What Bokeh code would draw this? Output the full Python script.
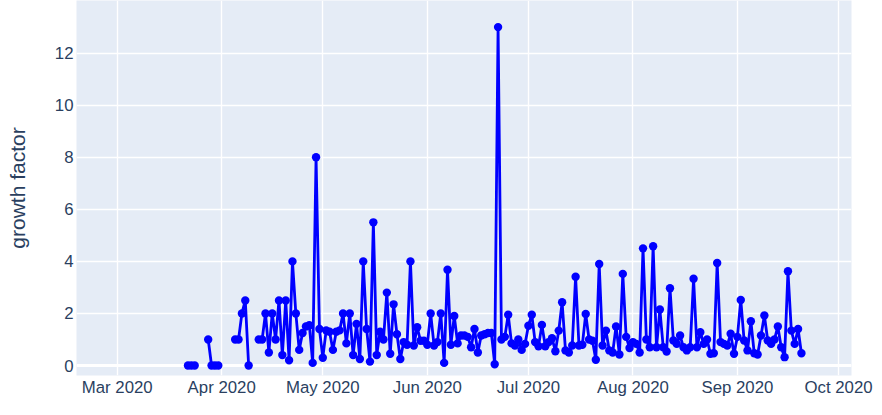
import numpy as np
import pandas as pd
from bokeh.plotting import figure
from bokeh.models import Range1d, FixedTicker, DatetimeTickFormatter, Span, ColumnDataSource
from bokeh.embed import file_html
from bokeh.resources import INLINE

nan = float("nan")

# daily growth factor, first day 2020-03-22 (NaN = no value that day)
start_date = "2020-03-22"
growth_mar = [0, 0, 0, nan, nan, nan, 1, 0, 0, 0]                         # Mar 22 - Mar 31
growth_apr = [nan, nan, nan, nan, 1, 1, 2, 2.5, 0, nan,
              nan, 1, 1, 2, 0.5, 2, 1, 2.5, 0.4, 2.5,
              0.2, 4, 2, 0.6, 1.25, 1.5, 1.55, 0.1, 8, 1.4]                 # Apr
growth_may = [0.3, 1.35, 1.3, 0.6, 1.3, 1.35, 2, 0.85, 2, 0.4,
              1.6, 0.25, 4, 1.4, 0.15, 5.5, 0.4, 1.3, 1.0, 2.8,
              0.45, 2.35, 1.2, 0.25, 0.9, 0.8, 4, 0.77, 1.47, 0.95, 0.95]  # May
growth_jun = [0.8, 2, 0.77, 0.9, 2, 0.1, 3.68, 0.8, 1.9, 0.85,
              1.15, 1.15, 1.1, 0.7, 1.4, 0.5, 1.15, 1.2, 1.25, 1.25,
              0.05, 13, 1.0, 1.1, 1.95, 0.85, 0.77, 1.0, 0.6, 0.83]         # Jun
growth_jul = [1.53, 1.95, 0.9, 0.74, 1.56, 0.74, 0.9, 1.05, 0.55, 1.34,
              2.43, 0.58, 0.5, 0.77, 3.41, 0.77, 0.8, 1.98, 1.0, 0.95,
              0.22, 3.9, 0.77, 1.34, 0.58, 0.5, 1.5, 0.42, 3.52, 1.1, 0.67] # Jul
growth_aug = [0.9, 0.83, 0.5, 4.5, 1.0, 0.7, 4.58, 0.7, 2.15, 0.7,
              0.54, 2.97, 0.96, 0.83, 1.15, 0.7, 0.58, 0.7, 3.33, 0.7,
              1.28, 0.83, 1.0, 0.45, 0.47, 3.94, 0.9, 0.83, 0.77, 1.22, 0.45] # Aug
growth_sep = [1.1, 2.52, 0.96, 0.58, 1.7, 0.47, 0.42, 1.15, 1.92, 0.96,
              0.83, 1.0, 1.5, 0.7, 0.32, 3.62, 1.34, 0.83, 1.4, 0.47]       # Sep 1 - Sep 20

month_ticks = ["2020-03-01", "2020-04-01", "2020-05-01", "2020-06-01",
               "2020-07-01", "2020-08-01", "2020-09-01", "2020-10-01"]
y_ticks = [0, 2, 4, 6, 8, 10, 12]
y_title = "growth factor"

values = growth_mar + growth_apr + growth_may + growth_jun + growth_jul + growth_aug + growth_sep
dates = pd.date_range(start_date, periods=len(values), freq="D")
src = ColumnDataSource(data=dict(date=dates, growth=np.array(values, dtype=float)))

BG = "#E5ECF6"
TXT = "#2a3f5f"
FONT = "Liberation Sans"

ref = pd.Timestamp("2020-03-01")
x0 = ref - pd.Timedelta(days=12.07)
x1 = ref + pd.Timedelta(days=217.85)

p = figure(width=874, height=399, output_backend="svg", toolbar_location=None,
           x_axis_type="datetime",
           x_range=Range1d(x0, x1), y_range=Range1d(-0.384, 14.022),
           min_border_left=76, min_border_right=23, min_border_top=0, min_border_bottom=20)
p.background_fill_color = BG
p.border_fill_color = "white"
p.outline_line_color = None

p.line("date", "growth", source=src, line_color="blue", line_width=2.8)
p.scatter("date", "growth", source=src, size=8.4, fill_color="blue", line_color="blue", line_width=0)

zero = Span(location=0, dimension="width", line_color="white", line_width=2.8, level="underlay")
p.add_layout(zero)

p.xaxis.ticker = FixedTicker(ticks=[pd.Timestamp(t).value / 1e6 for t in month_ticks])
fmt = "%b %Y"
p.xaxis.formatter = DatetimeTickFormatter(years=fmt, months=fmt, days=fmt, hours=fmt,
                                          minutes=fmt, seconds=fmt, milliseconds=fmt,
                                          microseconds=fmt, minsec=fmt, hourmin=fmt)
p.yaxis.ticker = FixedTicker(ticks=y_ticks)

for ax in (p.xaxis, p.yaxis):
    ax.axis_line_color = None
    ax.major_tick_line_color = None
    ax.minor_tick_line_color = None
    ax.major_tick_out = 0
    ax.major_tick_in = 0
    ax.minor_tick_out = 0
    ax.major_label_text_font = FONT
    ax.major_label_text_font_size = "16.8px"
    ax.major_label_text_color = TXT
p.xaxis.major_label_standoff = 2
p.yaxis.major_label_standoff = 3
p.yaxis.axis_label = y_title
p.yaxis.axis_label_text_font = FONT
p.yaxis.axis_label_text_font_size = "21px"
p.yaxis.axis_label_text_font_style = "normal"
p.yaxis.axis_label_text_color = TXT
p.yaxis.axis_label_standoff = 23

p.xgrid.grid_line_color = "white"
p.ygrid.grid_line_color = "white"
p.xgrid.grid_line_width = 1.4
p.ygrid.grid_line_width = 1.4

open("out.html", "w").write(file_html(p, INLINE))
